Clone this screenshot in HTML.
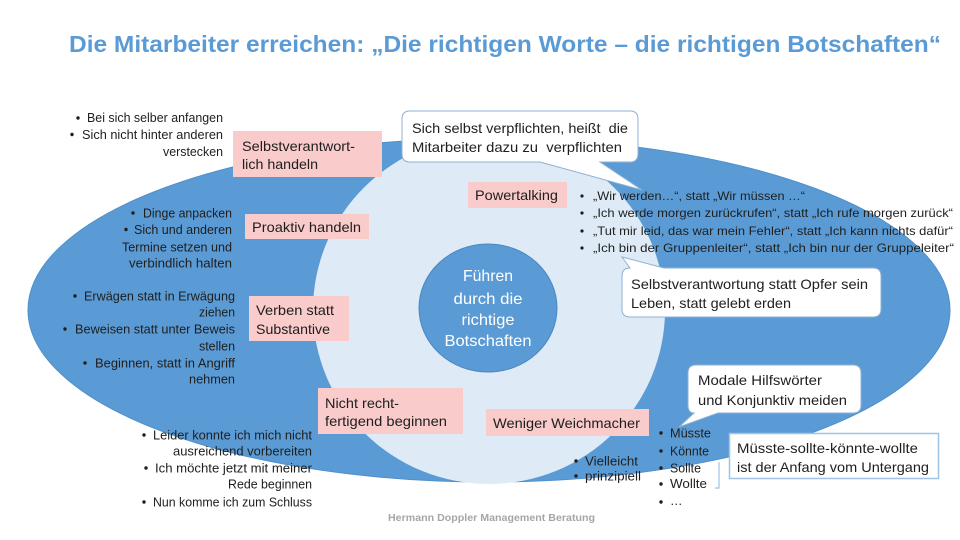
<!DOCTYPE html>
<html><head><meta charset="utf-8">
<style>
html,body{margin:0;padding:0;background:#fff;}
svg{display:block;}
text{font-family:"Liberation Sans",Arial,sans-serif;}
.b{font-size:12.5px;fill:#1e1e1e;}
.p{font-size:14px;fill:#1e1e1e;}
.s{font-size:12px;fill:#1e1e1e;}
.c{font-size:16px;fill:#fff;}
</style></head>
<body>
<svg width="960" height="540" viewBox="0 0 960 540" xmlns="http://www.w3.org/2000/svg">
<rect width="960" height="540" fill="#fff"/>
<!-- title -->
<text x="69" y="52" font-size="23.5" font-weight="bold" fill="#5b9bd5" textLength="872" lengthAdjust="spacingAndGlyphs">Die Mitarbeiter erreichen: „Die richtigen Worte – die richtigen Botschaften“</text>

<!-- big ellipse -->
<ellipse cx="489" cy="310" rx="461" ry="172" fill="#5b9bd5" stroke="#4f8fcb" stroke-width="1"/>
<!-- light ellipse -->
<ellipse cx="489" cy="310" rx="176" ry="174" fill="#deebf7"/>
<!-- center circle -->
<ellipse cx="488" cy="308" rx="69" ry="64" fill="#5b9bd5" stroke="#4a87c2" stroke-width="1"/>
<text class="c" x="488" y="281" text-anchor="middle" textLength="50" lengthAdjust="spacingAndGlyphs">Führen</text>
<text class="c" x="488" y="304" text-anchor="middle" textLength="69" lengthAdjust="spacingAndGlyphs">durch die</text>
<text class="c" x="488" y="325" text-anchor="middle" textLength="53" lengthAdjust="spacingAndGlyphs">richtige</text>
<text class="c" x="488" y="346" text-anchor="middle" textLength="87" lengthAdjust="spacingAndGlyphs">Botschaften</text>

<!-- pink boxes -->
<g fill="#f9cbcb">
<rect x="233" y="131" width="149" height="46"/>
<rect x="245" y="214" width="124" height="25"/>
<rect x="249" y="296" width="100" height="45"/>
<rect x="318" y="388" width="145" height="46"/>
<rect x="468" y="182" width="99" height="26"/>
<rect x="486" y="409" width="163" height="27"/>
</g>
<text class="p" x="242" y="151" textLength="113" lengthAdjust="spacingAndGlyphs">Selbstverantwort-</text>
<text class="p" x="242" y="169" textLength="76" lengthAdjust="spacingAndGlyphs">lich handeln</text>
<text class="p" x="252" y="232" textLength="109" lengthAdjust="spacingAndGlyphs">Proaktiv handeln</text>
<text class="p" x="256" y="315" textLength="78" lengthAdjust="spacingAndGlyphs">Verben statt</text>
<text class="p" x="256" y="334" textLength="74" lengthAdjust="spacingAndGlyphs">Substantive</text>
<text class="p" x="325" y="408" textLength="74" lengthAdjust="spacingAndGlyphs">Nicht recht-</text>
<text class="p" x="325" y="426" textLength="122" lengthAdjust="spacingAndGlyphs">fertigend beginnen</text>
<text class="p" x="475" y="200" textLength="83" lengthAdjust="spacingAndGlyphs">Powertalking</text>
<text class="p" x="493" y="428" textLength="147" lengthAdjust="spacingAndGlyphs">Weniger Weichmacher</text>

<!-- bullets (dots) -->
<g fill="#1e1e1e">
<circle cx="78" cy="118" r="1.7"/>
<circle cx="72" cy="134.5" r="1.7"/>
<circle cx="133" cy="213" r="1.7"/>
<circle cx="126" cy="229.5" r="1.7"/>
<circle cx="75" cy="296" r="1.7"/>
<circle cx="65" cy="329" r="1.7"/>
<circle cx="85" cy="363" r="1.7"/>
<circle cx="144" cy="435" r="1.7"/>
<circle cx="146" cy="468" r="1.7"/>
<circle cx="144" cy="502" r="1.7"/>
<circle cx="582" cy="196" r="1.6"/>
<circle cx="582" cy="213" r="1.6"/>
<circle cx="582" cy="231" r="1.6"/>
<circle cx="582" cy="248" r="1.6"/>
<circle cx="661" cy="433" r="1.7"/>
<circle cx="661" cy="451" r="1.7"/>
<circle cx="661" cy="468" r="1.7"/>
<circle cx="661" cy="484" r="1.7"/>
<circle cx="661" cy="502" r="1.7"/>
<circle cx="576" cy="461" r="1.7"/>
<circle cx="576" cy="476" r="1.7"/>
</g>

<!-- left bullet texts -->
<text class="b" x="87" y="122" textLength="136" lengthAdjust="spacingAndGlyphs">Bei sich selber anfangen</text>
<text class="b" x="82" y="139" textLength="141" lengthAdjust="spacingAndGlyphs">Sich nicht hinter anderen</text>
<text class="b" x="163" y="156" textLength="60" lengthAdjust="spacingAndGlyphs">verstecken</text>

<text class="b" x="143" y="217.5" textLength="89" lengthAdjust="spacingAndGlyphs">Dinge anpacken</text>
<text class="b" x="134" y="234" textLength="98" lengthAdjust="spacingAndGlyphs">Sich und anderen</text>
<text class="b" x="122" y="251.5" textLength="110" lengthAdjust="spacingAndGlyphs">Termine setzen und</text>
<text class="b" x="129" y="267.5" textLength="103" lengthAdjust="spacingAndGlyphs">verbindlich halten</text>

<text class="b" x="84" y="300.5" textLength="151" lengthAdjust="spacingAndGlyphs">Erwägen statt in Erwägung</text>
<text class="b" x="199" y="316.5" textLength="36" lengthAdjust="spacingAndGlyphs">ziehen</text>
<text class="b" x="75" y="333.5" textLength="160" lengthAdjust="spacingAndGlyphs">Beweisen statt unter Beweis</text>
<text class="b" x="199" y="350.5" textLength="36" lengthAdjust="spacingAndGlyphs">stellen</text>
<text class="b" x="95" y="367.5" textLength="140" lengthAdjust="spacingAndGlyphs">Beginnen, statt in Angriff</text>
<text class="b" x="189" y="383.5" textLength="46" lengthAdjust="spacingAndGlyphs">nehmen</text>

<text class="b" x="153" y="439.5" textLength="159" lengthAdjust="spacingAndGlyphs">Leider konnte ich mich nicht</text>
<text class="b" x="173" y="455.5" textLength="139" lengthAdjust="spacingAndGlyphs">ausreichend vorbereiten</text>
<text class="b" x="155" y="472.5" textLength="157" lengthAdjust="spacingAndGlyphs">Ich möchte jetzt mit meiner</text>
<text class="b" x="228" y="488.5" textLength="84" lengthAdjust="spacingAndGlyphs">Rede beginnen</text>
<text class="b" x="153" y="506.5" textLength="159" lengthAdjust="spacingAndGlyphs">Nun komme ich zum Schluss</text>

<!-- powertalking bullets -->
<text class="s" x="593" y="200" textLength="212" lengthAdjust="spacingAndGlyphs">„Wir werden…“, statt „Wir müssen …“</text>
<text class="s" x="593" y="217" textLength="360" lengthAdjust="spacingAndGlyphs">„Ich werde morgen zurückrufen“, statt „Ich rufe morgen zurück“</text>
<text class="s" x="593" y="235" textLength="360" lengthAdjust="spacingAndGlyphs">„Tut mir leid, das war mein Fehler“, statt „Ich kann nichts dafür“</text>
<text class="s" x="593" y="252" textLength="361" lengthAdjust="spacingAndGlyphs">„Ich bin der Gruppenleiter“, statt „Ich bin nur der Gruppeleiter“</text>

<!-- callout 1 -->
<g fill="#fff" stroke="#8fb0d2" stroke-width="1">
<path d="M410,111 H630 Q638,111 638,119 V154 Q638,162 630,162 H600 L642,190 L540,162 H410 Q402,162 402,154 V119 Q402,111 410,111 Z"/>
<path d="M630,268 L622,257 L664,268 H873 Q881,268 881,276 V309 Q881,317 873,317 H630 Q622,317 622,309 V276 Q622,268 630,268 Z"/>
<path d="M696,365 H853 Q861,365 861,373 V405 Q861,413 853,413 H718 L679,427 L694,413 Q688,413 688,405 V373 Q688,365 696,365 Z"/>
</g>
<text class="p" x="412" y="133" textLength="216" lengthAdjust="spacingAndGlyphs">Sich selbst verpflichten, heißt&#160; die</text>
<text class="p" x="412" y="152" textLength="210" lengthAdjust="spacingAndGlyphs">Mitarbeiter dazu zu&#160; verpflichten</text>
<text class="p" x="631" y="289" textLength="237" lengthAdjust="spacingAndGlyphs">Selbstverantwortung statt Opfer sein</text>
<text class="p" x="631" y="308" textLength="160" lengthAdjust="spacingAndGlyphs">Leben, statt gelebt erden</text>
<text class="p" x="698" y="385" textLength="124" lengthAdjust="spacingAndGlyphs">Modale Hilfswörter</text>
<text class="p" x="698" y="405" textLength="149" lengthAdjust="spacingAndGlyphs">und Konjunktiv meiden</text>

<!-- modal bullets -->
<text class="b" x="670" y="437.5" textLength="41" lengthAdjust="spacingAndGlyphs">Müsste</text>
<text class="b" x="670" y="455.5" textLength="39" lengthAdjust="spacingAndGlyphs">Könnte</text>
<text class="b" x="670" y="472.5" textLength="31" lengthAdjust="spacingAndGlyphs">Sollte</text>
<text class="b" x="670" y="488" textLength="37" lengthAdjust="spacingAndGlyphs">Wollte</text>
<text class="b" x="670" y="505">…</text>
<text class="b" x="585" y="465.5" textLength="53" lengthAdjust="spacingAndGlyphs">Vielleicht</text>
<text class="b" x="585" y="480.5" textLength="56" lengthAdjust="spacingAndGlyphs">prinzipiell</text>

<!-- bracket -->
<path d="M719,462 V488 H715" fill="none" stroke="#9dc3e6" stroke-width="1.2"/>

<!-- box Müsste -->
<rect x="729.5" y="433.5" width="209" height="45" fill="#fff" stroke="#9dc3e6" stroke-width="1.5"/>
<text class="p" x="737" y="453" textLength="181" lengthAdjust="spacingAndGlyphs">Müsste-sollte-könnte-wollte</text>
<text class="p" x="737" y="472" textLength="192" lengthAdjust="spacingAndGlyphs">ist der Anfang vom Untergang</text>

<!-- footer -->
<text x="388" y="521" font-size="10" font-weight="bold" fill="#a6a6a6" textLength="207" lengthAdjust="spacingAndGlyphs">Hermann Doppler Management Beratung</text>
</svg>
</body></html>
